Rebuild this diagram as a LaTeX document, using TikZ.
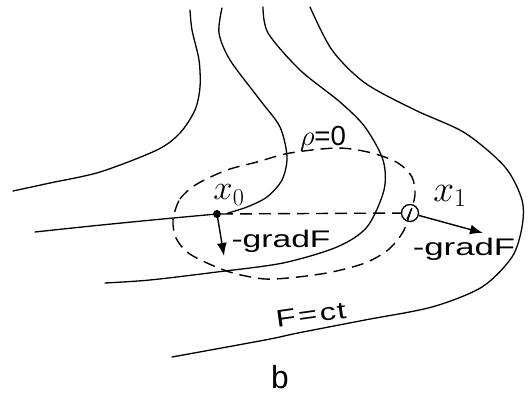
\documentclass[tikz,border=0pt]{standalone}
\usepackage{fontspec}
\newfontfamily\handfont{Liberation Sans}
\newfontfamily\typefont{Liberation Mono}
\usetikzlibrary{arrows.meta,calc}
\newcommand{\hw}[2][1.25]{\scalebox{#1}[1]{#2}}
\tikzset{
  curve/.style={line width=1.3pt, line cap=round},
  dash line/.style={line width=1.4pt, dash pattern=on 12pt off 7pt},
  hand/.style={font=\handfont\fontsize{24}{24}\selectfont, inner sep=0pt},
  mathlab/.style={font=\fontsize{24}{24}\selectfont, inner sep=0pt},
  arr/.style={line width=1.4pt, -{Latex[length=13pt,width=10pt]}}
}
\begin{document}
\begin{tikzpicture}[x=1pt,y=-1pt]
\useasboundingbox (0,0) rectangle (531,396);
% level curves F = ct
\draw[curve] plot[smooth] coordinates {(190,10) (192,30) (199,60) (200,87) (195,110) (180,133) (157,150) (100,172) (50,183) (13,191)};
\draw[curve] plot[smooth] coordinates {(222,8) (219,33) (230,60) (260,100) (280,127) (287,157) (282,180) (267,197) (247,207) (228,213)};
\draw[curve] plot[smooth] coordinates {(263,7) (268,33) (300,70) (340,102) (365,127) (383,160) (384,190) (367,227) (337,247) (283,263) (217,272) (150,280) (105,283)};
\draw[curve] plot[smooth] coordinates {(310,7) (332,50) (365,83) (415,110) (465,133) (505,167) (522,200) (522,227) (512,257) (482,287) (432,307) (365,320) (298,333) (265,340) (172,357)};
% points
\node[circle, fill, inner sep=0pt, minimum size=8pt] (x0) at (217,214) {};
\node[circle, draw, line width=1.3pt, fill=white, inner sep=0pt, minimum size=17pt] (x1) at (410,213) {};
\draw[line width=1.1pt] ($(x1.center)+(-3,6)$) -- ($(x1.center)+(2,-5)$);
% trajectory through x0
\draw[curve] (x0.center) .. controls (150,220) and (90,226) .. (35,232);
% dashed constraint curve rho = 0
\draw[dash line] plot[smooth cycle] coordinates {(173,220) (180,199) (197,184) (227,170) (257,162) (290,153) (338,148) (372,153) (398,163) (412,177) (415,195) (410,213) (403,232) (388,250) (365,263) (332,272) (298,277) (265,279) (233,273) (207,263) (187,252) (176,238)};
\draw[dash line] (x0) -- (x1);
% gradient arrows
\coordinate (t0) at (224,256);
\coordinate (t1) at (483,233);
\draw[arr] (x0.center) -- (t0);
\draw[arr] (x1) -- (t1);
% labels
\node[mathlab] (lx0) at (229,195) {\scalebox{1.4}{$x_{0}$}};
\node[mathlab] (lx1) at (450,196) {\scalebox{1.5}{$x_{1}$}};
\node[hand] (g0) at (281,241) {\hw[1.4]{-gradF}};
\node[hand] (g1) at (464,249) {\hw[1.45]{-gradF}};
\node[mathlab] (rho) at (323,139) {\scalebox{1.15}{$\rho$\handfont=0}};
\node[hand, rotate=8] (fct) at (311,315) {\hw[1.35]{F\kern2pt=\kern2pt c\kern1pt t}};
\node[font=\typefont\fontsize{32}{32}\selectfont, inner sep=0pt] (b) at (280,377) {b};
\end{tikzpicture}
\end{document}
